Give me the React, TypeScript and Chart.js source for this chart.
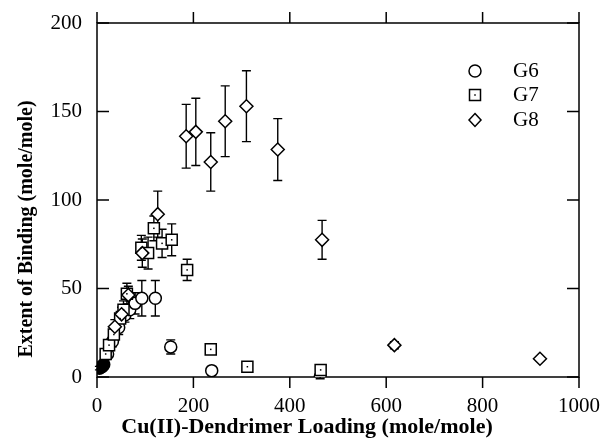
import React, { useEffect, useRef } from "react";
import { Chart, registerables } from "chart.js";

Chart.register(...registerables);

const g6X = [5, 8, 11, 14, 22, 32, 45, 58, 68, 79, 93, 121, 153, 238, 463];
const g6Y = [5, 5.5, 6, 7, 13, 20, 28, 35, 38, 41.6, 44.5, 44.5, 17, 3.6, 0];
const g6Err = [1, 1, 1, 1, 2, 3, 4, 4, 5, 6, 10, 10, 4, 1.5, 1];

const g7X = [18, 25, 35, 48, 55, 62, 92, 106, 118, 135, 155, 187, 236, 312, 464];
const g7Y = [13, 18, 24, 33, 38, 47, 73, 70, 84, 75.5, 77.5, 60.5, 15.6, 5.8, 4];
const g7Err = [2, 2, 3, 4, 5, 6, 7, 9, 7, 8, 9, 6, 2, 2, 3];

const g8X = [37, 51, 65, 94, 126, 185, 205, 236, 266, 310, 375, 467, 617, 919];
const g8Y = [28.4, 35.4, 46.3, 70, 92, 136, 138.5, 121.5, 144.5, 153, 128.5, 77.5, 18, 10.3];
const g8Err = [4, 4, 5, 8, 13, 18, 19, 16.5, 20, 20, 17.5, 11, 2, 1];

const seriesLabels = ["G6", "G7", "G8"];
const xTitle = "Cu(II)-Dendrimer Loading (mole/mole)";
const yTitle = "Extent of Binding (mole/mole)";
const xTicks = [0, 200, 400, 600, 800, 1000];
const yTicks = [0, 50, 100, 150, 200];

const SERIF = "'Liberation Serif', 'Times New Roman', serif";

const errs = [g6Err, g7Err, g8Err];

function drawMarker(ctx: CanvasRenderingContext2D, style: string, x: number, y: number) {
  ctx.save();
  ctx.lineWidth = 1.5;
  ctx.strokeStyle = "#000";
  ctx.fillStyle = "#fff";
  ctx.beginPath();
  if (style === "circle") {
    ctx.arc(x, y, 6, 0, Math.PI * 2);
  } else if (style === "rect") {
    ctx.rect(x - 5.5, y - 5.5, 11, 11);
  } else {
    ctx.moveTo(x, y - 6.5);
    ctx.lineTo(x + 6, y);
    ctx.lineTo(x, y + 6.5);
    ctx.lineTo(x - 6, y);
    ctx.closePath();
  }
  ctx.fill();
  ctx.stroke();
  if (style === "rect") {
    ctx.fillStyle = "#000";
    ctx.fillRect(x - 0.75, y - 0.75, 1.5, 1.5);
  }
  ctx.restore();
}

const decorPlugin = {
  id: "decor",
  beforeDatasetsDraw(chart: any) {
    const ctx = chart.ctx as CanvasRenderingContext2D;
    const xs = chart.scales.x;
    const ys = chart.scales.y;
    const { left, right, top, bottom } = chart.chartArea;
    ctx.save();
    ctx.strokeStyle = "#000";
    ctx.lineWidth = 1.5;
    ctx.strokeRect(left, top, right - left, bottom - top);
    ctx.beginPath();
    xTicks.forEach((v) => {
      const px = xs.getPixelForValue(v);
      ctx.moveTo(px, bottom);
      ctx.lineTo(px, bottom + 11);
      ctx.moveTo(px, top);
      ctx.lineTo(px, top - 11);
    });
    yTicks.forEach((v) => {
      const py = ys.getPixelForValue(v);
      ctx.moveTo(left, py);
      ctx.lineTo(left + 12, py);
      ctx.moveTo(right, py);
      ctx.lineTo(right - 12, py);
    });
    ctx.stroke();
    ctx.lineWidth = 1.4;
    chart.data.datasets.forEach((ds: any, di: number) => {
      const e = errs[di];
      ds.data.forEach((p: any, i: number) => {
        const px = xs.getPixelForValue(p.x);
        const y1 = ys.getPixelForValue(p.y + e[i]);
        const y2 = ys.getPixelForValue(p.y - e[i]);
        ctx.beginPath();
        ctx.moveTo(px, y1);
        ctx.lineTo(px, y2);
        ctx.moveTo(px - 4.5, y1);
        ctx.lineTo(px + 4.5, y1);
        ctx.moveTo(px - 4.5, y2);
        ctx.lineTo(px + 4.5, y2);
        ctx.stroke();
      });
    });
    ctx.restore();
  },
  afterDatasetsDraw(chart: any) {
    const ctx = chart.ctx as CanvasRenderingContext2D;
    ctx.save();
    const meta = chart.getDatasetMeta(1);
    ctx.fillStyle = "#000";
    meta.data.forEach((el: any) => {
      ctx.fillRect(el.x - 0.75, el.y - 0.75, 1.5, 1.5);
    });
    const styles = ["circle", "rect", "rectRot"];
    const rows = [71, 95, 120];
    ctx.font = `21px ${SERIF}`;
    ctx.textBaseline = "middle";
    ctx.textAlign = "left";
    chart.data.datasets.forEach((ds: any, i: number) => {
      drawMarker(ctx, styles[i], 475, rows[i]);
      ctx.fillStyle = "#000";
      ctx.fillText(ds.label, 513, rows[i]);
    });
    ctx.font = `bold 22px ${SERIF}`;
    ctx.textAlign = "center";
    ctx.fillText(xTitle, 307, 427);
    ctx.translate(27, 229);
    ctx.rotate(-Math.PI / 2);
    ctx.font = `bold 20px ${SERIF}`;
    ctx.fillText(yTitle, 0, 0);
    ctx.restore();
  },
};

export default function App() {
  const ref = useRef<HTMLCanvasElement | null>(null);
  useEffect(() => {
    if (!ref.current) return;
    const mk = (xa: number[], ya: number[]) => xa.map((x, i) => ({ x, y: ya[i] }));
    const chart = new Chart(ref.current, {
      type: "scatter",
      data: {
        datasets: [
          {
            label: seriesLabels[0],
            data: mk(g6X, g6Y),
            pointStyle: "circle",
            pointRadius: 6,
            borderColor: "#000",
            borderWidth: 1.5,
            backgroundColor: (c: any) => (c.raw && c.raw.x < 16 ? "#000" : "#fff"),
            order: 2,
          },
          {
            label: seriesLabels[1],
            data: mk(g7X, g7Y),
            pointStyle: "rect",
            pointRadius: 7.8,
            borderColor: "#000",
            borderWidth: 1.5,
            backgroundColor: "#fff",
            order: 1,
          },
          {
            label: seriesLabels[2],
            data: mk(g8X, g8Y),
            pointStyle: "rectRot",
            pointRadius: 6.5,
            borderColor: "#000",
            borderWidth: 1.5,
            backgroundColor: "#fff",
            order: 0,
          },
        ],
      },
      options: {
        responsive: false,
        animation: false,
        layout: { padding: { top: 23, right: 21, left: 0, bottom: 0 } },
        plugins: { legend: { display: false }, tooltip: { enabled: false } },
        scales: {
          x: {
            type: "linear",
            min: 0,
            max: 1000,
            afterFit: (s: any) => {
              s.height = 66;
              s.paddingLeft = 0;
              s.paddingRight = 0;
            },
            afterBuildTicks: (s: any) => {
              s.ticks = xTicks.map((v) => ({ value: v }));
            },
            grid: { display: false, drawTicks: false },
            border: { display: false },
            ticks: {
              color: "#000",
              font: { family: SERIF, size: 21 },
              padding: 17,
              maxRotation: 0,
              callback: (v: any) => String(v),
            },
          },
          y: {
            type: "linear",
            min: 0,
            max: 200,
            afterFit: (s: any) => {
              s.width = 97;
              s.paddingTop = 0;
              s.paddingBottom = 0;
            },
            afterBuildTicks: (s: any) => {
              s.ticks = yTicks.map((v) => ({ value: v }));
            },
            grid: { display: false, drawTicks: false },
            border: { display: false },
            ticks: {
              color: "#000",
              font: { family: SERIF, size: 21 },
              padding: 15,
              callback: (v: any) => String(v),
            },
          },
        },
      },
      plugins: [decorPlugin],
    } as any);
    return () => chart.destroy();
  }, []);
  return (
    <div style={{ position: "absolute", left: 0, top: 0, width: 600, height: 443, background: "#fff" }}>
      <canvas ref={ref} width={600} height={443} style={{ display: "block", width: 600, height: 443 }} />
    </div>
  );
}
